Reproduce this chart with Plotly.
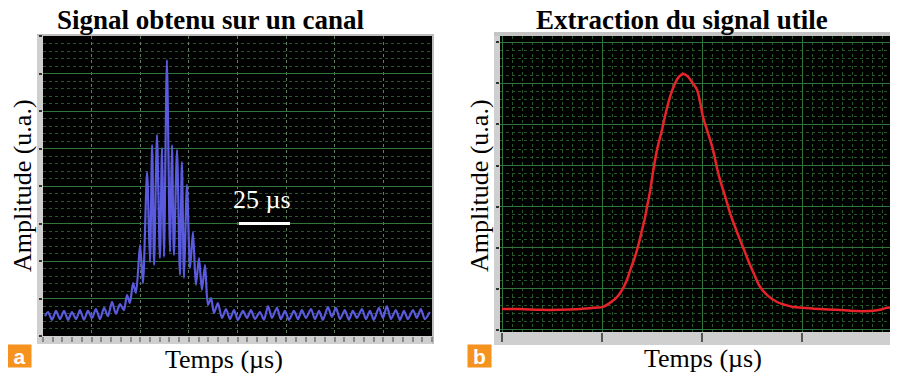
import plotly.graph_objects as go

# ---------------- data ----------------
# Panel a: raw signal on one channel (time in µs, amplitude in arbitrary units)
t_a = [1.0, 2.6, 4.6, 6.7, 8.7, 10.8, 12.9, 14.9, 17.0, 19.0, 21.1, 23.1, 25.2, 27.2,
       29.3, 31.4, 33.4, 35.5, 37.5, 39.6, 41.6, 43.2, 44.7, 46.3, 47.8, 49.9, 51.4,
       53.5, 55.0, 56.1, 57.1, 58.6, 60.1, 61.2, 62.2, 63.7, 65.3, 66.3, 67.3, 68.9,
       70.4, 71.4, 72.5, 74.0, 75.6, 77.1, 78.6, 80.2, 81.7, 83.3, 84.8, 86.4, 87.9,
       89.9, 92.0, 94.1, 96.1, 98.2, 100.2, 102.8, 104.9, 106.9, 109.0, 111.5, 113.6,
       115.7, 117.7, 120.3, 122.3, 124.4, 126.5, 129.0, 131.1, 133.1, 135.2, 137.8,
       139.8, 141.9, 143.9, 146.5, 148.5, 150.6, 152.7, 155.2, 157.3, 159.3, 161.4,
       164.0, 166.0, 168.1, 170.1, 172.7, 174.8, 176.8, 178.9, 181.4, 183.5, 185.6,
       187.6, 190.2, 192.2, 194.3, 196.3, 198.9]
amp_a = [0.53, 0.64, 0.43, 0.67, 0.45, 0.67, 0.43, 0.64, 0.45, 0.69, 0.43, 0.67, 0.48,
         0.72, 0.45, 0.75, 0.53, 0.91, 0.59, 0.85, 0.69, 1.09, 0.88, 1.41, 1.15, 2.43,
         1.41, 4.37, 1.97, 5.09, 1.89, 5.36, 2.08, 5.01, 2.11, 7.36, 2.24, 5.09, 2.16,
         4.96, 1.63, 4.64, 1.55, 4.03, 1.81, 2.77, 1.36, 2.08, 1.23, 1.89, 0.83, 1.01,
         0.61, 0.88, 0.48, 0.72, 0.45, 0.69, 0.43, 0.67, 0.48, 0.69, 0.45, 0.64, 0.43,
         0.80, 0.48, 0.75, 0.45, 0.67, 0.43, 0.67, 0.45, 0.69, 0.48, 0.72, 0.45, 0.67,
         0.43, 0.77, 0.51, 0.75, 0.45, 0.69, 0.43, 0.67, 0.48, 0.72, 0.45, 0.67, 0.43,
         0.75, 0.48, 0.80, 0.45, 0.69, 0.43, 0.67, 0.45, 0.69, 0.48, 0.72, 0.45, 0.64]

# Panel b: extracted useful signal
t_b = [0, 4.5, 9.5, 14.5, 19.5, 23.25, 25.25, 27, 28.75, 30, 31.25, 32.25, 33.25, 34.25,
       35, 35.75, 36.25, 37, 37.75, 38.75, 40, 41, 42, 43, 44, 44.75, 45.25, 46, 46.5,
       47.5, 48.75, 49.5, 50.25, 51.5, 52.75, 53.75, 54.5, 55.75, 57, 58.25, 59.5, 60.5,
       61.5, 63, 64.5, 66.5, 68.75, 70.75, 72.75, 75.25, 79.5, 83.75, 88.25, 92, 94.5,
       96.25, 99]
amp_b = [0.51, 0.51, 0.49, 0.49, 0.51, 0.54, 0.56, 0.66, 0.80, 0.97, 1.22, 1.51, 1.78,
         2.12, 2.43, 2.73, 2.99, 3.36, 3.84, 4.38, 4.87, 5.30, 5.67, 5.94, 6.13, 6.20,
         6.23, 6.20, 6.16, 6.03, 5.84, 5.55, 5.18, 4.79, 4.38, 3.94, 3.65, 3.26, 2.85,
         2.51, 2.19, 1.95, 1.70, 1.36, 1.05, 0.83, 0.68, 0.61, 0.56, 0.54, 0.51, 0.49,
         0.46, 0.46, 0.49, 0.54, 0.54]

# scale bar of panel a (µs)
scale_start = 100.7
scale_len = 26.3
scale_level = 3.0

title_a = "Signal obtenu sur un canal"
title_b = "Extraction du signal utile"
ylabel = "Amplitude (u.a.)"
xlabel = "Temps (µs)"
scale_label = "25 µs"

# ---------------- figure ----------------
# the page body has an 8px default margin: the figure is shrunk to fit
OFF = 8
W, H = 898 - OFF, 376 - OFF
def px(x):
    return (x - OFF) / W
def py(y):
    return 1 - (y - OFF) / H

SERIF = "Liberation Serif, Times New Roman, serif"
MAJ = "rgb(48,118,58)"
MIN = "rgb(38,88,44)"

fig = go.Figure()
fig.add_trace(go.Scatter(x=t_a, y=amp_a, mode="lines",
                         line=dict(color="rgb(90,90,222)", width=2.2, shape="spline",
                                   smoothing=0.7),
                         xaxis="x", yaxis="y", showlegend=False, hoverinfo="skip"))
fig.add_trace(go.Scatter(x=t_b, y=amp_b, mode="lines",
                         line=dict(color="rgb(232,34,42)", width=2.5, shape="spline"),
                         xaxis="x2", yaxis="y2", showlegend=False, hoverinfo="skip"))

common = dict(showticklabels=False, zeroline=False, showline=False, fixedrange=True)

fig.update_layout(
    width=W, height=H,
    margin=dict(l=0, r=0, t=0, b=0),
    paper_bgcolor="white",
    plot_bgcolor="black",
    xaxis=dict(domain=[px(43), px(432)], range=[0, 200], anchor="y",
               dtick=25, tick0=0, showgrid=True, gridcolor="rgb(95,125,95)",
               griddash="dot", gridwidth=1,
               ticks="outside", ticklen=5, tickcolor="#8a8a8a", tickwidth=2,
               minor=dict(dtick=5, ticks="outside", ticklen=5, tickcolor="#8a8a8a",
                          tickwidth=2, showgrid=False),
               **common),
    yaxis=dict(domain=[py(336), py(36)], range=[0, 8], anchor="x",
               dtick=1, tick0=0, showgrid=True, gridcolor=MAJ, gridwidth=1,
               ticks="outside", ticklen=3, tickcolor="#333", tickwidth=2,
               minor=dict(dtick=0.2, showgrid=True, gridcolor=MIN, griddash="dot",
                          gridwidth=1),
               **common),
    xaxis2=dict(domain=[px(500), 1], range=[-0.5, 99], anchor="y2",
                dtick=25, tick0=0, showgrid=True, gridcolor=MAJ, gridwidth=1,
                ticks="outside", ticklen=9, tickcolor="#555", tickwidth=2,
                minor=dict(dtick=2.5, showgrid=True, gridcolor=MIN, griddash="dot",
                           gridwidth=1),
                **common),
    yaxis2=dict(domain=[py(332), py(36)], range=[-0.05, 7.15], anchor="x2",
                dtick=1, tick0=0, showgrid=True, gridcolor=MAJ, gridwidth=1,
                ticks="outside", ticklen=3, tickcolor="#333", tickwidth=2,
                minor=dict(dtick=0.2, showgrid=True, gridcolor=MIN, griddash="dot",
                           gridwidth=1),
                **common),
)

shapes = []
def bar(x0, y0, x1, y1, color="#cfcfcf"):
    shapes.append(dict(type="rect", xref="paper", yref="paper",
                       x0=px(x0), x1=px(x1), y0=py(y1), y1=py(y0),
                       fillcolor=color, line=dict(width=0), layer="below"))
# panel a frame bars
bar(37, 34, 43, 344)
bar(37, 336, 434, 344)
bar(432, 34, 434, 344, "#bdbdbd")
bar(37, 34, 434, 36, "#bdbdbd")
# panel b frame bars
bar(494, 32, 500, 345)
bar(494, 332, 898, 345)
bar(494, 32, 898, 36, "#c4c4c4")
# scale bar in data coordinates of panel a
shapes.append(dict(type="line", xref="x", yref="y",
                   x0=scale_start, x1=scale_start + scale_len,
                   y0=scale_level, y1=scale_level,
                   line=dict(color="white", width=3)))
fig.update_layout(shapes=shapes)

ann = []
ann.append(dict(text="<b>" + title_a + "</b>", x=px(211), y=py(20), xref="paper",
                yref="paper", showarrow=False, xanchor="center", yanchor="middle",
                font=dict(family=SERIF, size=27, color="black")))
ann.append(dict(text="<b>" + title_b + "</b>", x=px(682), y=py(20), xref="paper",
                yref="paper", showarrow=False, xanchor="center", yanchor="middle",
                font=dict(family=SERIF, size=27, color="black")))
for xc in (22, 479):
    ann.append(dict(text=ylabel, x=px(xc), y=py(186), xref="paper", yref="paper",
                    showarrow=False, textangle=-90, xanchor="center", yanchor="middle",
                    font=dict(family=SERIF, size=26, color="black")))
for xc, yc in ((224, 359), (703, 358)):
    ann.append(dict(text=xlabel, x=px(xc), y=py(yc), xref="paper", yref="paper",
                    showarrow=False, xanchor="center", yanchor="middle",
                    font=dict(family=SERIF, size=26, color="black")))
ann.append(dict(text=scale_label, x=px(262), y=py(199), xref="paper", yref="paper",
                showarrow=False, xanchor="center", yanchor="middle",
                font=dict(family=SERIF, size=26, color="white")))
for lab, xc in (("a", 19.5), ("b", 479.5)):
    ann.append(dict(text="<b>" + lab + "</b>", x=px(xc), y=py(356), xref="paper",
                    yref="paper", showarrow=False, xanchor="center", yanchor="middle",
                    width=23, height=22, bgcolor="rgb(246,146,30)", borderpad=0,
                    font=dict(family="Liberation Sans, Arial, sans-serif", size=21,
                              color="white")))
fig.update_layout(annotations=ann)

fig.write_html("out.html")
